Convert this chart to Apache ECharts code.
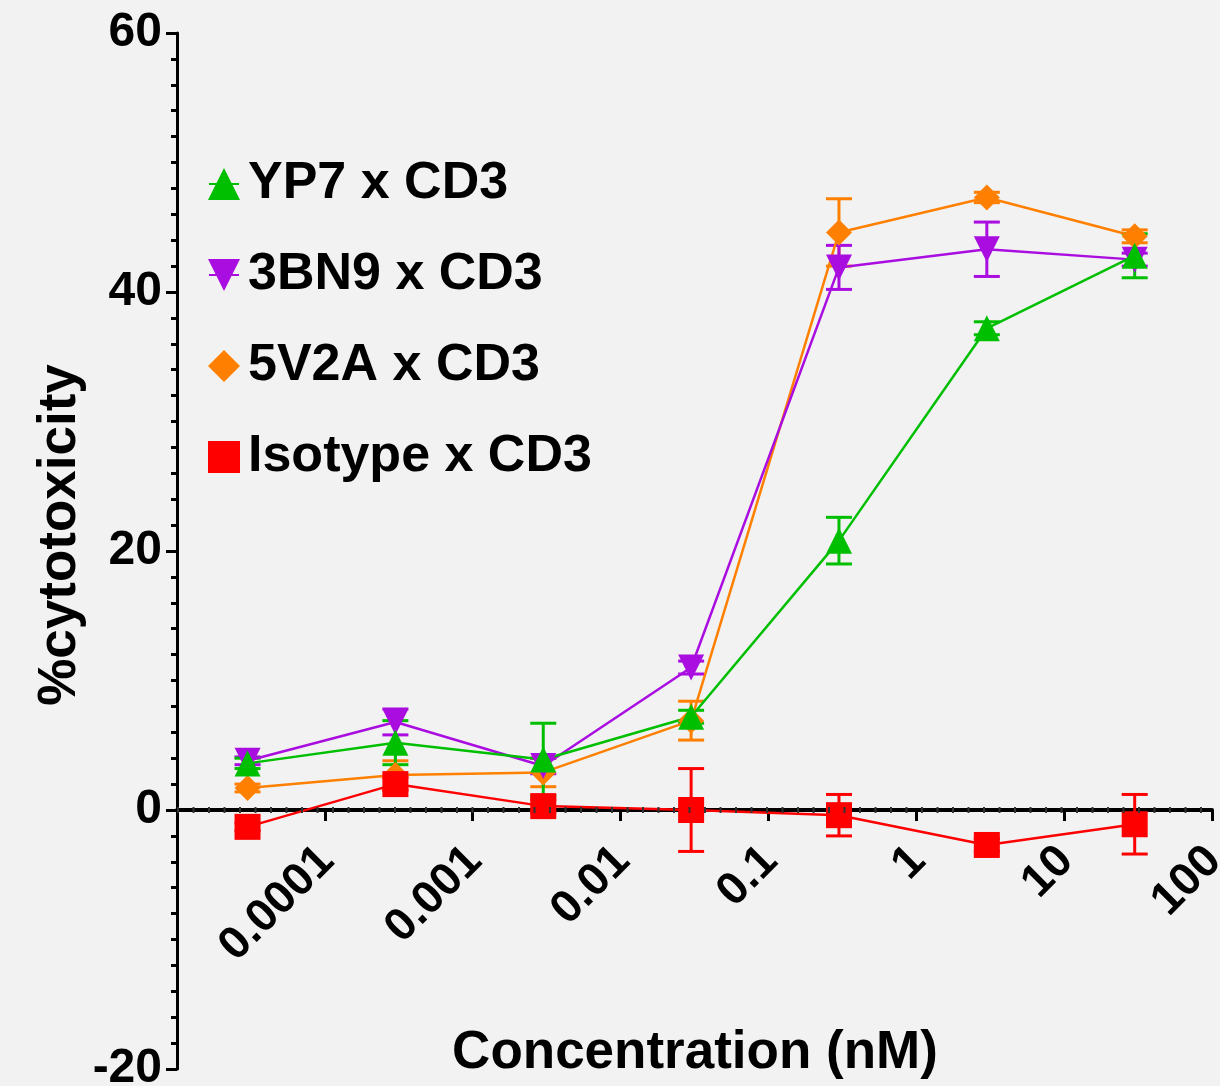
<!DOCTYPE html>
<html>
<head>
<meta charset="utf-8">
<script src="https://cdn.jsdelivr.net/npm/echarts@6/dist/echarts.min.js"></script>
<style>
  html, body { margin: 0; padding: 0; background: #f2f2f2; }
  #chart { width: 1220px; height: 1086px; }
</style>
</head>
<body>
<div id="chart"></div>
<script>
// concentrations (nM)
const conc = [3e-5, 3e-4, 3e-3, 3e-2, 0.3, 3, 30]

// mean %cytotoxicity and error per series
const yp7 = [3.6, 5.2, 3.9, 7.2, 20.8, 37.2, 42.8]
const yp7Err = [0.4, 1.7, 2.8, 0.5, 1.8, 0.5, 1.7]
const bn9 = [3.8, 6.8, 3.4, 11.0, 41.9, 43.3, 42.5]
const bn9Err = [0.3, 1.0, 0.6, 0.5, 1.7, 2.1, 0.5]
const v2a = [1.7, 2.7, 2.9, 6.9, 44.6, 47.3, 44.3]
const v2aErr = [0.3, 1.1, 1.1, 1.5, 2.6, 0.4, 0.5]
const iso = [-1.3, 2.0, 0.3, 0.0, -0.4, -2.7, -1.1]
const isoErr = [0.3, 0.5, 0.5, 3.2, 1.6, 0.5, 2.3]

const seriesNames = ['YP7 x CD3', '3BN9 x CD3', '5V2A x CD3', 'Isotype x CD3']
const xTickValues = [0.0001, 0.001, 0.01, 0.1, 1, 10, 100]
const xTickLabels = ['0.0001', '0.001', '0.01', '0.1', '1', '10', '100']
const FONT = '"Liberation Sans", Arial, Helvetica, sans-serif'

const chart = echarts.init(document.getElementById('chart'))

function pts(vals) {
  return conc.map((c, i) => [c, vals[i]])
}

function errData(vals, errs) {
  return conc.map((c, i) => [c, vals[i] - errs[i], vals[i] + errs[i]])
}

function errSeries(name, vals, errs, color) {
  return {
    name: name + ' err',
    type: 'custom',
    data: errData(vals, errs),
    renderItem(params, api) {
      const lo = api.coord([api.value(0), api.value(1)])
      const hi = api.coord([api.value(0), api.value(2)])
      const w = 13
      const style = { stroke: color, lineWidth: 3 }
      return {
        type: 'group',
        children: [
          { type: 'line', shape: { x1: hi[0], y1: hi[1], x2: lo[0], y2: lo[1] }, style },
          { type: 'line', shape: { x1: hi[0] - w, y1: hi[1], x2: hi[0] + w, y2: hi[1] }, style },
          { type: 'line', shape: { x1: lo[0] - w, y1: lo[1], x2: lo[0] + w, y2: lo[1] }, style }
        ]
      }
    },
    silent: true
  }
}

function lineSeries(name, vals, color, symbol, size, rotate) {
  return {
    name: name,
    type: 'line',
    data: pts(vals),
    symbol: symbol,
    symbolSize: size,
    symbolRotate: rotate || 0,
    showAllSymbol: true,
    itemStyle: { color: color, opacity: 1 },
    lineStyle: { color: color, width: 2.5 },
    animation: false
  }
}

const green = '#00bf00'
const purple = '#aa0de0'
const orange = '#ff8000'
const red = '#ff0000'

// dotted baseline on y = 0
const baseline = {
  name: 'baseline',
  type: 'line',
  data: [],
  markLine: {
    silent: true,
    symbol: 'none',
    label: { show: false },
    lineStyle: { color: '#333', width: 6, type: [2, 13.5] },
    data: [{ yAxis: 0 }]
  }
}

// rotated decade labels hanging under the zero line
const xLabelSeries = {
  name: 'xlabels',
  type: 'custom',
  clip: false,
  silent: true,
  data: xTickValues.map((v, i) => [v, 0, i]),
  renderItem(params, api) {
    const p = api.coord([api.value(0), 0])
    return {
      type: 'text',
      x: p[0] + 2,
      y: p[1] + 44,
      rotation: Math.PI / 4,
      style: {
        text: xTickLabels[api.value(2)],
        font: 'bold 46px ' + FONT,
        fill: '#000',
        textAlign: 'right',
        textVerticalAlign: 'middle'
      }
    }
  }
}

chart.setOption({
  backgroundColor: '#f2f2f2',
  animation: false,
  grid: {
    left: 177,
    right: 8,
    top: 33,
    bottom: 17,
    containLabel: false,
    outerBoundsMode: 'none'
  },
  legend: {
    orient: 'vertical',
    left: 203,
    top: 153,
    itemGap: 39,
    itemWidth: 30,
    itemHeight: 40,
    data: seriesNames,
    textStyle: {
      fontFamily: FONT,
      fontSize: 52,
      fontWeight: 'bold',
      color: '#000',
      padding: [0, 0, 0, 4]
    }
  },
  xAxis: {
    type: 'log',
    logBase: 10,
    min: 1e-5,
    max: 100,
    axisLine: { onZero: true, lineStyle: { color: '#000', width: 4 } },
    axisTick: { show: true, length: 11, lineStyle: { color: '#000', width: 3 } },
    splitLine: { show: false },
    axisLabel: { show: false }
  },
  yAxis: {
    type: 'value',
    min: -20,
    max: 60,
    interval: 20,
    axisLine: { show: true, onZero: false, lineStyle: { color: '#000', width: 3 } },
    axisTick: { show: true, length: 11, lineStyle: { color: '#000', width: 3 } },
    minorTick: { show: true, splitNumber: 10, length: 6, lineStyle: { color: '#000', width: 3 } },
    splitLine: { show: false },
    axisLabel: {
      margin: 15,
      fontFamily: FONT,
      fontSize: 48,
      fontWeight: 'bold',
      color: '#000'
    }
  },
  graphic: [
    {
      type: 'text',
      x: 60,
      y: 535,
      rotation: Math.PI / 2,
      style: {
        text: '%cytotoxicity',
        font: 'bold 53px ' + FONT,
        fill: '#000',
        textAlign: 'center',
        textVerticalAlign: 'middle'
      }
    },
    {
      type: 'text',
      x: 695,
      y: 1053,
      style: {
        text: 'Concentration (nM)',
        font: 'bold 53px ' + FONT,
        fill: '#000',
        textAlign: 'center',
        textVerticalAlign: 'middle'
      }
    }
  ],
  series: [
    baseline,
    xLabelSeries,
    errSeries(seriesNames[2], v2a, v2aErr, orange),
    lineSeries(seriesNames[2], v2a, orange, 'diamond', 26),
    errSeries(seriesNames[1], bn9, bn9Err, purple),
    lineSeries(seriesNames[1], bn9, purple, 'triangle', 26, 180),
    errSeries(seriesNames[0], yp7, yp7Err, green),
    lineSeries(seriesNames[0], yp7, green, 'triangle', 26),
    errSeries(seriesNames[3], iso, isoErr, red),
    lineSeries(seriesNames[3], iso, red, 'rect', 26)
  ]
})
</script>
</body>
</html>
